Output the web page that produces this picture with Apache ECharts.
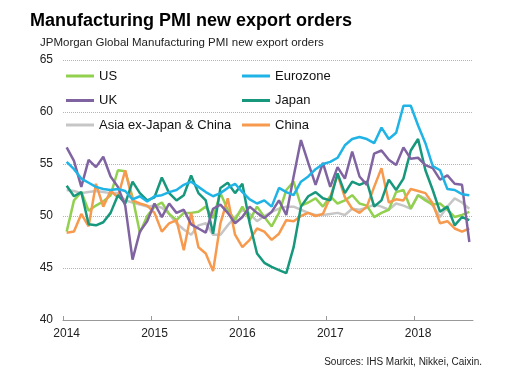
<!DOCTYPE html>
<html>
<head>
<meta charset="utf-8">
<script src="https://cdn.jsdelivr.net/npm/echarts@6/dist/echarts.min.js"></script>
<style>
html,body{margin:0;padding:0;background:#fff;}
#c{width:509px;height:372px;}
</style>
</head>
<body>
<div id="c"></div>
<script>
// ---- data (monthly, Jan 2014 – Aug 2018) ----
const years = ['2014', '2015', '2016', '2017', '2018'];
const yTicks = [40, 45, 50, 55, 60, 65];
const seriesNames = ['US', 'Eurozone', 'UK', 'Japan', 'Asia ex-Japan & China', 'China'];

const us = [
  48.5, 51.5, 52.3, 50.5, 51.0, 51.4, 52.0, 54.4, 54.3, 51.8, 48.4, 50.0,
  50.9, 51.3, 50.2, 49.6, 50.3, 50.3, 50.4, 50.9, 49.8, 52.2, 50.6, 49.6,
  50.9, 49.6, 50.9, 49.9, 49.0, 50.3, 52.5, 53.3, 51.0, 51.3, 51.7, 50.9,
  51.9, 51.2, 51.5, 52.0, 51.2, 51.0, 49.9, 50.3, 50.6, 52.3, 52.5, 50.7,
  52.0, 51.5, 51.1, 51.2, 50.6, 49.9, 50.1, 50.4
];
const eurozone = [
  55.2, 54.5, 53.6, 53.2, 52.8, 52.6, 52.5, 52.6, 52.4, 51.6, 51.9, 51.4,
  51.9, 52.0, 52.3, 52.5, 53.0, 53.3, 52.8, 52.3, 51.9, 52.2, 52.7, 53.1,
  52.3, 51.6, 51.2, 51.5, 50.9, 52.7, 52.3, 52.0, 53.3, 53.8, 54.5, 55.0,
  55.2, 55.6, 56.8, 57.4, 57.6, 57.4, 57.0, 58.5, 57.4, 58.0, 60.6, 60.6,
  58.7, 57.0, 54.8, 54.4, 52.6, 52.5, 52.1, 52.0
];
const uk = [
  56.6, 55.3, 52.8, 55.4, 54.7, 55.7, 53.8, 52.8, 51.0, 45.8, 48.5, 49.5,
  51.2, 49.9, 51.2, 50.3, 50.6, 49.2, 48.8, 48.4, 50.7, 51.1, 50.3, 49.3,
  49.9, 50.9, 50.3, 49.8, 50.4, 51.5, 50.1, 53.8, 57.3, 55.1, 53.0, 55.1,
  52.8, 54.7, 53.6, 56.2, 53.8, 53.0, 56.0, 56.3, 55.4, 54.9, 56.6, 55.5,
  55.6, 54.9, 54.6, 53.5, 53.9, 53.1, 53.0, 47.5
];
const japan = [
  52.9, 51.9, 52.3, 49.2, 49.1, 49.4, 50.3, 52.0, 51.2, 53.3, 52.2, 51.5,
  51.8, 53.7, 52.2, 51.5, 52.0, 53.9, 52.2, 51.5, 48.3, 52.7, 53.2, 52.2,
  53.1, 49.3, 46.4, 45.5, 45.1, 44.8, 44.5, 47.0, 50.9, 51.9, 52.3, 51.7,
  51.5, 54.1, 52.2, 53.3, 53.0, 53.3, 50.9, 51.5, 53.5, 52.5, 53.6, 56.3,
  57.4, 54.4, 52.5, 50.4, 50.9, 49.1, 49.9, 49.6
];
const asia = [
  52.5, 52.4, 52.2, 52.3, 52.4, 52.3, 52.2, 52.2, 51.5, 51.3, 51.1, 50.9,
  51.0, 50.8, 50.2, 49.3, 48.7, 48.2, 49.1, 49.3, 48.2, 48.2, 49.1, 49.9,
  50.6, 50.2, 49.5, 50.0, 50.4, 50.7, 50.9, 50.9, 50.6, 50.3, 50.1, 50.1,
  50.2, 50.3, 50.1, 50.7, 50.6, 50.8, 51.1, 50.9, 50.6, 51.2, 51.0, 50.7,
  52.0, 51.7, 51.0, 49.9, 50.9, 51.7, 51.3, 50.7
];
const china = [
  48.4, 48.5, 50.2, 49.0, 53.1, 50.9, 52.4, 51.8, 54.4, 51.5, 51.2, 51.0,
  50.3, 48.5, 49.3, 49.6, 46.7, 50.3, 47.0, 46.4, 44.7, 49.3, 51.7, 48.2,
  47.0, 47.7, 48.8, 48.5, 47.7, 48.3, 49.6, 49.5, 50.0, 50.3, 50.0, 50.2,
  51.8, 54.0, 51.8, 50.7, 50.3, 50.9, 52.8, 54.6, 51.3, 51.6, 51.5, 52.6,
  52.4, 52.2, 51.2, 49.3, 49.5, 48.8, 48.5, 48.8
];

const colors = {
  'US': '#92d050',
  'Eurozone': '#1fb3e6',
  'UK': '#8064a2',
  'Japan': '#17987c',
  'Asia ex-Japan & China': '#c6c6c6',
  'China': '#f79a4e'
};
const values = {
  'US': us, 'Eurozone': eurozone, 'UK': uk, 'Japan': japan,
  'Asia ex-Japan & China': asia, 'China': china
};
// draw order (later = on top)
const drawOrder = ['Asia ex-Japan & China', 'US', 'China', 'Japan', 'UK', 'Eurozone'];

const FONT = 'Liberation Sans, Arial, sans-serif';
const chart = echarts.init(document.getElementById('c'), null, {renderer: 'canvas'});

const series = drawOrder.map(name => ({
  name: name,
  type: 'line',
  showSymbol: false,
  symbol: 'none',
  smooth: false,
  color: colors[name],
  lineStyle: {width: 2.5, color: colors[name]},
  data: values[name].map((v, i) => [i + 0.5, v])
}));

const legendCommon = {
  orient: 'vertical',
  icon: 'rect',
  padding: 0,
  itemWidth: 28,
  itemHeight: 3,
  itemGap: 8.5,
  selectedMode: false,
  textStyle: {fontFamily: FONT, fontSize: 13, color: '#111', lineHeight: 16}
};

const tickPos = years.map((y, k) => k * 12);
const labelPos = years.map((y, k) => k * 12 + 0.5);

chart.setOption({
  animation: false,
  backgroundColor: '#fff',
  title: [
    {text: 'Manufacturing PMI new export orders', left: 30, top: 12, padding: 0,
     textStyle: {fontFamily: FONT, fontSize: 18, fontWeight: 'bold', color: '#000'}},
    {text: 'JPMorgan Global Manufacturing PMI new export orders', left: 40, top: 37, padding: 0,
     textStyle: {fontFamily: FONT, fontSize: 11.5, fontWeight: 'normal', color: '#222'}},
    {text: 'Sources: IHS Markit, Nikkei, Caixin.', right: 27, top: 357, padding: 0,
     textStyle: {fontFamily: FONT, fontSize: 10, fontWeight: 'normal', color: '#222'}}
  ],
  legend: [
    Object.assign({left: 66, top: 68, data: ['US', 'UK', 'Asia ex-Japan & China']}, legendCommon),
    Object.assign({left: 242, top: 68, data: ['Eurozone', 'Japan', 'China']}, legendCommon)
  ],
  grid: {left: 63, right: 36, top: 60, bottom: 52, containLabel: false},
  xAxis: {
    type: 'value',
    min: 0,
    max: 56,
    interval: 12,
    axisLine: {show: true, lineStyle: {color: '#999', width: 1}},
    axisTick: {show: true, inside: true, length: 4, lineStyle: {color: '#999'},
               customValues: tickPos},
    axisLabel: {show: true, margin: 8, fontFamily: FONT, fontSize: 12, color: '#222',
                customValues: labelPos,
                formatter: v => years[Math.floor(v / 12)] || ''},
    splitLine: {show: false}
  },
  yAxis: {
    type: 'value',
    min: yTicks[0],
    max: yTicks[yTicks.length - 1],
    interval: 5,
    axisLine: {show: false},
    axisTick: {show: false},
    axisLabel: {margin: 10, fontFamily: FONT, fontSize: 12, color: '#222'},
    splitLine: {show: true, lineStyle: {type: 'dotted', color: '#b5b5b5', width: 1}}
  },
  series: series
});
</script>
</body>
</html>
